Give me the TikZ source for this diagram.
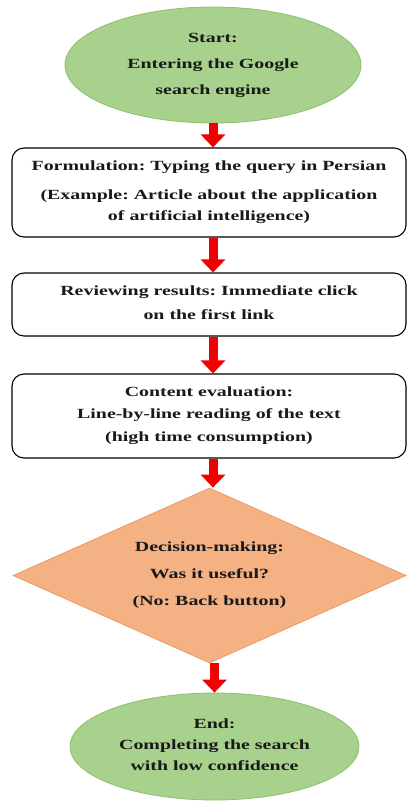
\documentclass[tikz,border=0pt]{standalone}
\usepackage{fontspec}
\setmainfont{Liberation Serif}
\usepackage{graphicx}
\usetikzlibrary{shapes.geometric,arrows.meta}
\definecolor{gfill}{HTML}{A9D18E}
\definecolor{gline}{HTML}{8CBF6E}
\definecolor{ofill}{HTML}{F4B183}
\definecolor{oline}{HTML}{EE9A63}
\definecolor{arrred}{HTML}{F00000}
\frenchspacing
\newcommand\stx[1]{\scalebox{1.42}[1]{\begin{tabular}{@{}c@{}}#1\end{tabular}}}
\begin{document}
\begin{tikzpicture}[x=1pt,y=-1pt,
  every node/.style={font=\fontsize{14}{17}\selectfont\bfseries, text=black!90},
  term/.style={ellipse, draw=gline, fill=gfill, line width=0.8pt, inner sep=0pt},
  procbox/.style={rectangle, rounded corners=12pt, draw=black, line width=1.1pt, fill=white, inner sep=0pt},
  decide/.style={diamond, draw=oline, fill=ofill, line width=0.8pt, inner sep=0pt, aspect=2.25},
  flowarr/.style={draw=arrred, line width=9pt, -{Triangle[width=24pt,length=13pt]}}]
\useasboundingbox (0,0) rectangle (407,801);
\node[term, minimum width=296pt, minimum height=116pt] (start) at (213,65)
  {\stx{Start:\\[9pt]Entering the Google\\[9pt]search engine}};
\node[procbox, minimum width=394pt, minimum height=89pt] (f1) at (209,192.5)
  {\stx{Formulation: Typing the query in Persian\\[12pt](Example: Article about the application\\[4pt]of artificial intelligence)}};
\node[procbox, minimum width=394pt, minimum height=63pt] (f2) at (209,304.5)
  {\stx{Reviewing results: Immediate click\\[7pt]on the first link}};
\node[procbox, minimum width=394pt, minimum height=84pt] (f3) at (209,416)
  {\stx{Content evaluation:\\[5pt]Line-by-line reading of the text\\[6pt](high time consumption)}};
\node[decide, minimum width=393pt, minimum height=175pt] (dec) at (209.5,575.5)
  {\stx{Decision-making:\\[10pt]Was it useful?\\[10pt](No: Back button)}};
\node[term, minimum width=289pt, minimum height=107pt] (fin) at (214.5,746.5)
  {\stx{End:\\[4pt]Completing the search\\[4pt]with low confidence}};
\draw[flowarr] (start.south) -- (start.south |- f1.north);
\draw[flowarr] (f1.south -| start) -- (f2.north -| start);
\draw[flowarr] (f2.south -| start) -- (f3.north -| start);
\draw[flowarr] (f3.south -| start) -- (start |- dec.north);
\draw[flowarr] (dec.south -| fin) -- (fin.north);
\end{tikzpicture}
\end{document}
